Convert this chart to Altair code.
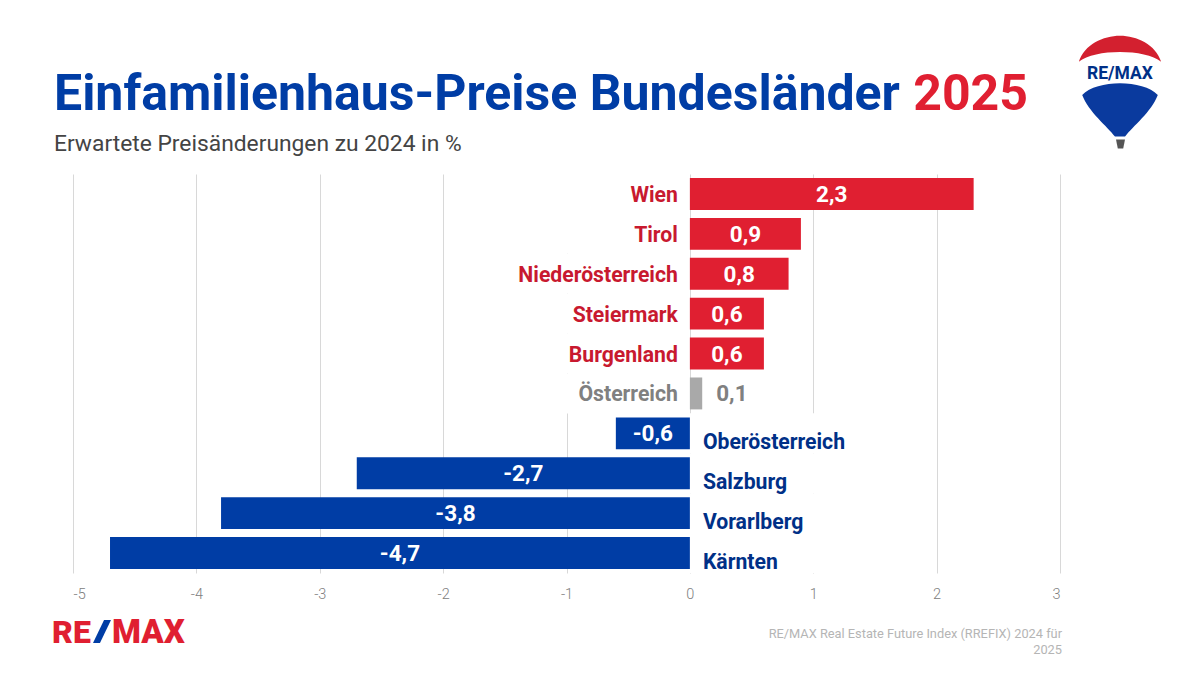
import altair as alt
import pandas as pd

regions = ["Wien", "Tirol", "Niederösterreich", "Steiermark", "Burgenland", "Österreich",
           "Oberösterreich", "Salzburg", "Vorarlberg", "Kärnten"]
changes = [2.3, 0.9, 0.8, 0.6, 0.6, 0.1, -0.6, -2.7, -3.8, -4.7]
labels = ["2,3", "0,9", "0,8", "0,6", "0,6", "0,1", "-0,6", "-2,7", "-3,8", "-4,7"]
groups = ["up"] * 5 + ["flat"] + ["down"] * 4
ticks = [-5, -4, -3, -2, -1, 0, 1, 2, 3]

RED, BLUE, GREY = "#e01f31", "#003da5", "#a9a9a9"
DARKRED, NAVY, DARKGREY = "#c8192f", "#003087", "#808080"
FONT = "Roboto"
df = pd.DataFrame({"region": regions, "change": changes, "label": labels, "group": groups})

x = alt.X("change:Q", scale=alt.Scale(domain=[-5, 3], nice=False, zero=False),
          axis=alt.Axis(values=ticks, title=None, grid=True, gridColor="#d8d8d8", gridWidth=1,
                        domain=False, ticks=False, labelColor="#808080", labelFont=FONT,
                        labelFontSize=14.5, labelFontWeight=300, labelPadding=14,
                        labelExpr="'' + datum.value"))
y = alt.Y("region:N", sort=regions, axis=None,
          scale=alt.Scale(paddingInner=0.2, paddingOuter=0.1))
ybare = alt.Y("region:N", sort=regions, axis=None)
colors = alt.Color("group:N", legend=None,
                   scale=alt.Scale(domain=["up", "flat", "down"], range=[RED, GREY, BLUE]))
text_colors = alt.Color("group:N", legend=None,
                        scale=alt.Scale(domain=["up", "flat", "down"], range=[DARKRED, DARKGREY, NAVY]))

bars = alt.Chart(df).mark_bar().encode(x=x, y=y, color=colors)

mid = df.assign(mid=df.change / 2)
big = alt.Chart(mid[mid.group != "flat"]).mark_text(
    font=FONT, fontWeight="bold", fontSize=22.5, color="white", baseline="middle", dy=1).encode(
    x=alt.X("mid:Q"), y=ybare, text="label:N")
flat = alt.Chart(mid[mid.group == "flat"]).mark_text(
    font=FONT, fontWeight="bold", fontSize=22.5, color=DARKGREY, align="left", dx=14, dy=1, baseline="middle").encode(
    x=alt.X("change:Q"), y=ybare, text="label:N")

pos = df[df.change >= 0].assign(zero=0)
neg = df[df.change < 0].assign(zero=0)
# white plates behind the region names hide the gridlines, as in the reference
plate_l = alt.Chart(pos).mark_bar(color="white", height=40).encode(
    x=alt.X("plate:Q"), x2=alt.X2("zero:Q"), y=ybare
).transform_calculate(plate="-1.5")
plate_r = alt.Chart(neg).mark_bar(color="white", height=40).encode(
    x=alt.X("zero:Q"), x2=alt.X2("plate:Q"), y=ybare
).transform_calculate(plate="1.5")
name_l = alt.Chart(pos).mark_text(font=FONT, fontWeight="bold", fontSize=21.2, align="right", dx=-12, dy=2, baseline="middle").encode(
    x=alt.X("zero:Q"), y=ybare, text="region:N", color=text_colors)
name_r = alt.Chart(neg).mark_text(font=FONT, fontWeight="bold", fontSize=21.2, align="left", dx=13, dy=10, baseline="middle").encode(
    x=alt.X("zero:Q"), y=ybare, text="region:N", color=text_colors)

OX, OY = 73, 174


def note(text, px, py, **kw):
    return alt.Chart(pd.DataFrame({"t": [text]})).mark_text(font=FONT, baseline="alphabetic", **kw).encode(
        x=alt.value(px - OX), y=alt.value(py - OY), text="t:N")


def shape(path, px, py, size, color):
    return alt.Chart(pd.DataFrame({"k": [0]})).mark_point(
        shape=path, filled=True, fill=color, color=color, size=size, opacity=1, strokeWidth=0).encode(
        x=alt.value(px - OX), y=alt.value(py - OY))


title = note("Einfamilienhaus-Preise Bundesländer", 54, 110, fontSize=50, fontWeight="bold", color=BLUE, align="left")
title_y = note("2025", 1028, 110, fontSize=50, fontWeight="bold", color=RED, align="right")
sub = note("Erwartete Preisänderungen zu 2024 in %", 54, 150.5, fontSize=22.8, color="#444444", align="left")
src1 = note("RE/MAX Real Estate Future Index (RREFIX) 2024 für", 1062, 638, fontSize=12.8, color="#b5b5b5", align="right")
src2 = note("2025", 1062, 654, fontSize=12.8, color="#b5b5b5", align="right")
lg1 = note("RE", 52, 643, fontSize=32, fontWeight=900, color=RED, align="left")
lg2 = shape("M-0.75 0.96 L0.17 -0.96 L0.75 -0.96 L-0.17 0.96 Z", 102, 631.5, 576, BLUE)
lg3 = note("MAX", 112, 643, fontSize=33, fontWeight=900, color=RED, align="left")

BX, BY, BS = 1120, 86.5, 7056
top = shape("M-0.98 -0.59 C-0.85 -1.0 -0.4 -1.21 0 -1.21 C0.4 -1.21 0.85 -1.0 0.98 -0.59 C0.6 -0.9 -0.6 -0.9 -0.98 -0.59 Z", BX, BY, BS, "#d3202f")
bot = shape("M-0.9 0.2 C-0.55 -0.17 0.55 -0.17 0.9 0.2 C0.75 0.6 0.3 0.95 0.12 1.19 L-0.12 1.19 C-0.3 0.95 -0.75 0.6 -0.9 0.2 Z", BX, BY, BS, "#0a3a9e")
bask = shape("M-1 -1 L1 -1 L0.6 1 L-0.6 1 Z", 1120.5, 144, 81, "#555555")
bal_t = note("RE/MAX", BX, 79, fontSize=17.5, fontWeight="bold", color=NAVY, align="center")

chart = alt.layer(plate_l, plate_r, bars, big, flat, name_l, name_r,
                  title, title_y, sub, src1, src2, lg1, lg2, lg3, top, bot, bask, bal_t
                  ).resolve_scale(color="independent").properties(
    width=987, height=399,
    padding={"left": OX - 8, "top": OY - 8, "right": 135, "bottom": 96},
    autosize=alt.AutoSizeParams(type="none", contains="content"),
    background="white",
).configure_view(stroke=None)

chart.save("out.html", embed_options={"renderer": "svg", "actions": False})
